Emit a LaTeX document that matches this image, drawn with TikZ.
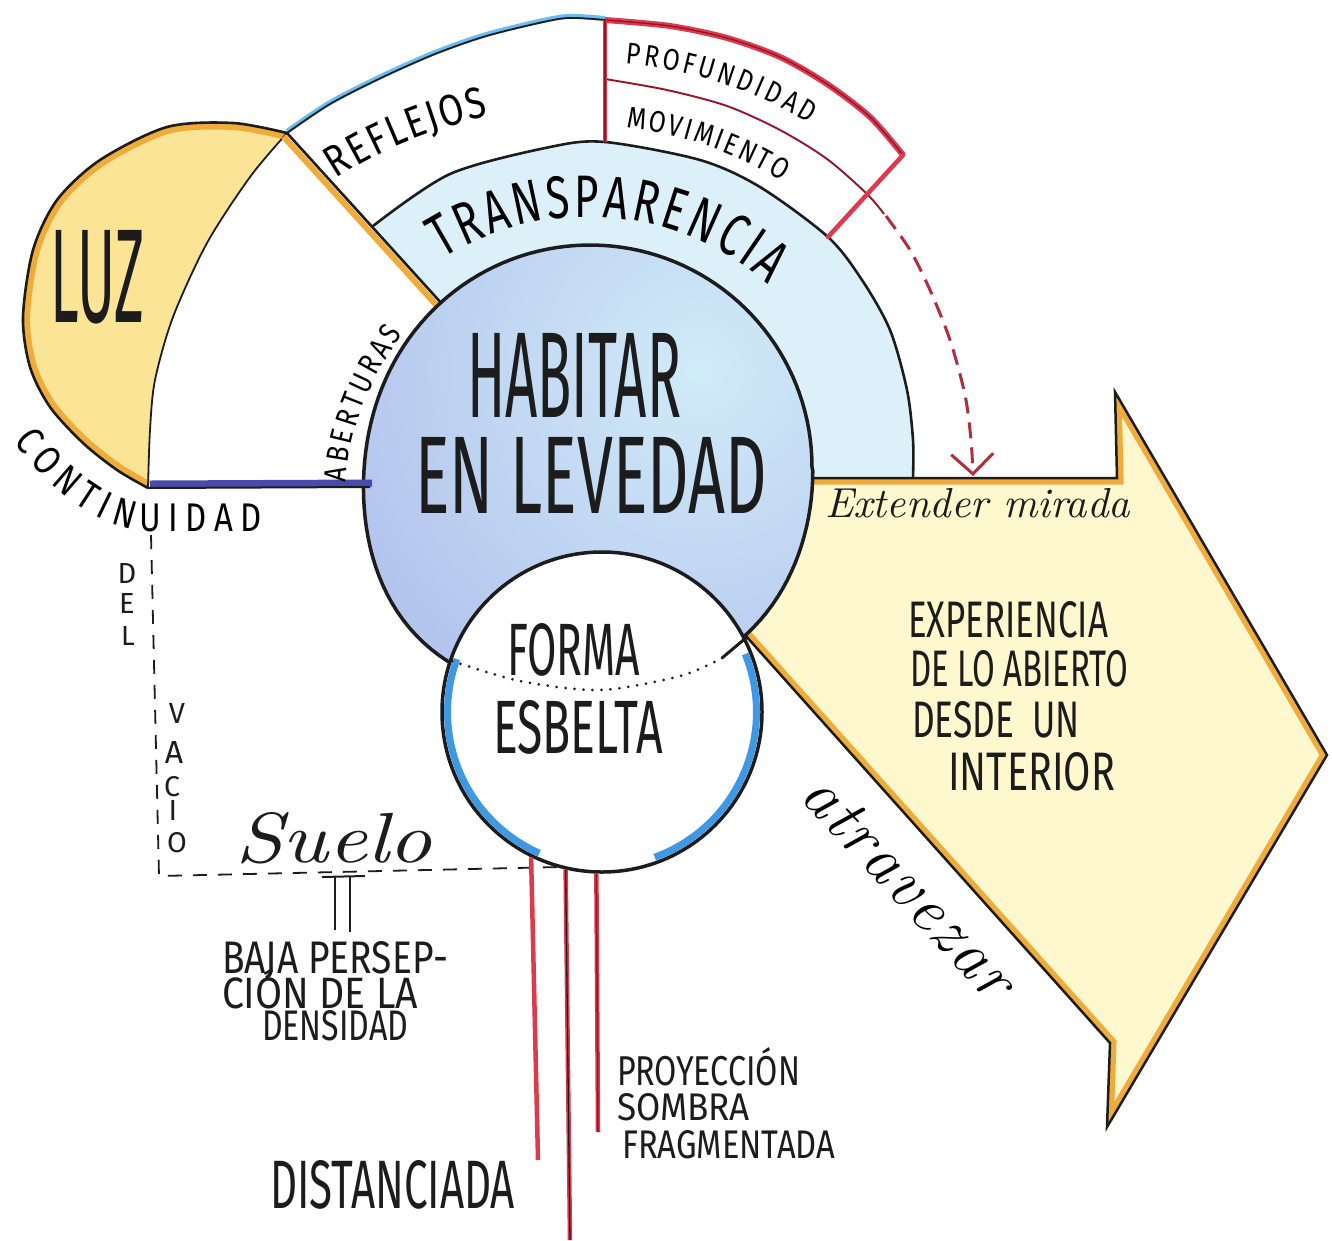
\documentclass[tikz,border=0pt]{standalone}
\usepackage{fontspec}
\usepackage{graphicx}
\usetikzlibrary{decorations.text,arrows.meta}
\IfFontExistsTF{FiraSans-Light.otf}
 {\newfontfamily\hand{FiraSans-Light}[Extension=.otf]
  \newfontfamily\handN{FiraSans-Light}[Extension=.otf,FakeStretch=0.7]
  \newfontfamily\handM{FiraSans-Light}[Extension=.otf,FakeStretch=0.82]}
 {\newfontfamily\hand{Fira Sans}
  \newfontfamily\handN{Fira Sans}[FakeStretch=0.7]
  \newfontfamily\handM{Fira Sans}[FakeStretch=0.82]}
\newcommand{\fitbox}[3]{\resizebox{#1pt}{#2pt}{\hand #3}}
\newcommand{\pathfont}[1]{\handN\fontsize{#1}{#1}\selectfont}
\newcommand{\pathfontm}[1]{\handM\fontsize{#1}{#1}\selectfont}
\newcommand{\cursfont}[1]{\itshape\fontsize{#1}{#1}\selectfont}
\definecolor{arrowfill}{RGB}{255,247,205}
\definecolor{orangeedge}{RGB}{240,172,58}
\definecolor{luzfill}{RGB}{252,228,150}
\definecolor{navyline}{RGB}{72,74,172}
\definecolor{skyline}{RGB}{105,190,238}
\definecolor{bandblue}{RGB}{220,240,249}
\definecolor{circin}{RGB}{208,235,248}
\definecolor{circout}{RGB}{166,178,232}
\definecolor{rimblue}{RGB}{62,152,226}
\definecolor{redline}{RGB}{222,58,78}
\definecolor{darkred}{RGB}{150,20,40}
\definecolor{inkc}{RGB}{28,28,28}
\tikzset{
  lbl/.style={inner sep=0pt, outer sep=0pt, text=inkc, anchor=base west},
  ltr/.style={inner sep=0pt, outer sep=0pt, text=inkc},
}
\begin{document}
\begin{tikzpicture}[x=1pt,y=-1pt]
\useasboundingbox (0,0) rectangle (1332,1240);
\fill[white] (0,0) rectangle (1332,1240);

% ---------------- big arrow ----------------
\coordinate (a1) at (760,478);
\coordinate (a2) at (1117,478);
\coordinate (a3) at (1115,392);
\coordinate (a4) at (1327,755);
\coordinate (a5) at (1107,1127);
\coordinate (a6) at (1110,1043);
\coordinate (a7) at (720,607);
\def\arrowpath{(a1) -- (a2) -- (a3) -- (a4) -- (a5) -- (a6) -- (a7) -- cycle}
\fill[arrowfill] \arrowpath;
\begin{scope}
  \clip \arrowpath;
  \draw[orangeedge, line width=13pt, line join=miter] \arrowpath;
\end{scope}

% ---------------- transparencia band ----------------
\def\arcthree{plot[smooth] coordinates {(373,226) (450,174) (550,147) (605,142) (700,160) (760,187) (828,237) (862,280) (890,330) (907,390) (913,440) (913,478)}}
\fill[bandblue] \arcthree -- (600,478) -- (443,305) -- cycle;
\draw[inkc, line width=2.5pt, line join=miter] (a1) -- (a2) -- (a3) -- (a4) -- (a5) -- (a6) -- (a7);
\draw[inkc, line width=2.6pt] \arcthree;

% ---------------- outer arcs: reflejos / red box ----------------
\draw[skyline, line width=5pt, yshift=1.5pt] plot[smooth] coordinates {(287,133) (330,104) (383,77) (435,54) (483,37) (530,25) (567,18) (605,20)};
\draw[inkc, line width=1.8pt] plot[smooth] coordinates {(287,133) (330,104) (383,77) (435,54) (483,37) (530,25) (567,18) (605,20)};
\draw[redline, line width=6pt] plot[smooth] coordinates {(605,20) (670,26) (727,38) (780,57) (827,84) (870,117) (903,155)};
\draw[darkred, line width=1.4pt] plot[smooth] coordinates {(605,20) (670,26) (727,38) (780,57) (827,84) (870,117) (903,155)};
\draw[darkred, line width=1.9pt] plot[smooth] coordinates {(605,79) (667,90) (727,106) (780,130) (827,159) (867,194) (884,214)};
\draw[redline, line width=4pt] (605,20) -- (605,142);
\draw[darkred, line width=1.5pt] (605,20) -- (605,142);
\draw[redline, line width=4.5pt, line cap=round] (903,155) -- (828,237);
\draw[redline!80!black, line width=3pt, dash pattern=on 16pt off 9pt, -{Straight Barb[length=20pt,width=42pt]}]
  plot[smooth] coordinates {(886,216) (910,250) (930,290) (950,340) (965,395) (971,440) (973,476)};

% ---------------- LUZ ----------------
\def\luzpath{plot[smooth] coordinates {(287,133) (233,123) (167,127) (100,160) (57,200) (33,250) (23,317) (30,367) (50,407) (83,443) (117,470) (148,488)} -- plot[smooth] coordinates {(148,488) (150,430) (155,380) (173,317) (207,243) (250,177) (287,133)} -- cycle}
\fill[luzfill] \luzpath;
\begin{scope}
  \clip \luzpath;
  \draw[orangeedge, line width=14pt] plot[smooth] coordinates {(287,133) (233,123) (167,127) (100,160) (57,200) (33,250) (23,317) (30,367) (50,407) (83,443) (117,470) (148,488)};
\end{scope}
\draw[inkc, line width=2.6pt] plot[smooth] coordinates {(287,133) (233,123) (167,127) (100,160) (57,200) (33,250) (23,317) (30,367) (50,407) (83,443) (117,470) (148,488)};
\draw[inkc, line width=1.8pt] plot[smooth] coordinates {(148,488) (150,430) (155,380) (173,317) (207,243) (250,177) (287,133)};
\draw[orangeedge, line width=6pt] (283.5,136.5) -- (439.5,308.5);
\draw[inkc, line width=2.6pt] (287,133) -- (443,305);

% ---------------- main circle ----------------
\def\mainpath{plot[domain=0:359, samples=150] ({590+(222+20*exp(-((\x-225)/35)^2)+7*exp(-((\x-315)/30)^2))*cos(\x)},{467-(222+20*exp(-((\x-225)/35)^2)+7*exp(-((\x-315)/30)^2))*sin(\x)}) -- cycle}
\fill[circin] \mainpath;
\begin{scope}
  \clip \mainpath;
  \shade[inner color=circin, outer color=circout] (700,370) circle[radius=560];
\end{scope}
\draw[inkc, line width=3.5pt] \mainpath;

% ---------------- small circle ----------------
\node[circle, draw=inkc, line width=3.5pt, fill=white, minimum size=320pt, inner sep=0pt] (forma) at (602,712) {};
\begin{scope}
  \clip (602,712) circle[radius=158];
  \draw[rimblue, line width=18pt] plot[domain=160:246, samples=40] ({602+160*cos(\x)},{712-160*sin(\x)});
  \draw[rimblue, line width=18pt] plot[domain=-70:22, samples=40] ({602+160*cos(\x)},{712-160*sin(\x)});
\end{scope}
\draw[inkc, line width=3pt, line cap=round, dash pattern=on 0pt off 9pt] plot[smooth] coordinates {(452,661) (520,681) (600,690) (680,676) (722,658)};
\draw[inkc, line width=3pt, line cap=round] (722,658) -- (747,637);

% ---------------- blue line (continuidad) ----------------
\draw[navyline, line width=7pt] (150,484) -- (372,483);
\draw[inkc, line width=2pt] (148,488) -- (370,487);

% ---------------- dashed void / suelo ----------------
\coordinate (v1) at (151,535);
\coordinate (v2) at (159,876);
\coordinate (v3) at (560,867);
\draw[inkc, line width=1.8pt, dash pattern=on 14pt off 11pt] (v1) -- (v2) -- (v3);
\draw[inkc, line width=2pt] (322,877) -- (365,876);
\draw[inkc, line width=2pt] (335,877) -- (335,930);
\draw[inkc, line width=2pt] (350,877) -- (350,932);

% ---------------- red shadow lines ----------------
\coordinate (r1) at (538,1160);
\coordinate (r2) at (570,1240);
\coordinate (r3) at (598,1132);
\draw[redline, line width=4.5pt] (forma.244) -- (r1);
\draw[redline, line width=4.5pt] (forma.257) -- (r2);
\draw[inkc, line width=1.3pt] (forma.257) -- (r2);
\draw[redline, line width=4.5pt] (forma.268) -- (r3);
\draw[darkred, line width=1.5pt] (forma.268) -- (r3);

% ---------------- texts ----------------
\node[lbl] (luz) at (50,322) {\fitbox{95}{92}{LUZ}};
\node[lbl] (habitar) at (467,417) {\fitbox{214}{84}{HABITAR}};
\node[lbl] (leve) at (415,513) {\fitbox{352}{76}{EN LEVEDAD}};
\node[lbl] (forma1) at (507,675) {\fitbox{133}{52}{FORMA}};
\node[lbl] (esbelta) at (493,753) {\fitbox{170}{53}{ESBELTA}};
\node[lbl] (exp1) at (908,637) {\fitbox{200}{36}{EXPERIENCIA}};
\node[lbl] (exp2) at (910,686) {\fitbox{218}{36}{DE LO ABIERTO}};
\node[lbl] (exp3) at (912,737) {\fitbox{168}{36}{DESDE~~UN}};
\node[lbl] (exp4) at (948,790) {\fitbox{167}{38}{INTERIOR}};
\node[lbl] (baja1) at (222,973) {\fitbox{226}{32}{BAJA PERSEP-}};
\node[lbl] (baja2) at (222,1008) {\fitbox{196}{40}{CIÓN DE LA}};
\node[lbl] (baja3) at (262,1040) {\fitbox{146}{30}{DENSIDAD}};
\node[lbl] (proy1) at (617,1085) {\fitbox{183}{38}{PROYECCIÓN}};
\node[lbl] (proy2) at (617,1120) {\fitbox{133}{27}{SOMBRA}};
\node[lbl] (proy3) at (622,1158) {\fitbox{213}{28}{FRAGMENTADA}};
\node[lbl] (dist) at (270,1208) {\fitbox{245}{48}{DISTANCIADA}};

\node[ltr] (dD) at (127,573) {\resizebox{!}{20pt}{\hand D}};
\node[ltr] (dE) at (127,603) {\resizebox{!}{20pt}{\hand E}};
\node[ltr] (dL) at (128,636) {\resizebox{!}{19pt}{\hand L}};
\node[ltr] (vV) at (177,713) {\resizebox{!}{20pt}{\hand V}};
\node[ltr] (vA) at (174,752) {\resizebox{!}{22pt}{\hand A}};
\node[ltr] (vC) at (172,787) {\resizebox{!}{20pt}{\hand C}};
\node[ltr] (vI) at (173,810) {\resizebox{!}{20pt}{\hand I}};
\node[ltr] (vO) at (177,843) {\resizebox{!}{20pt}{\hand O}};

\node[lbl] (ext) at (825,517) {\resizebox{305pt}{!}{\itshape Extender mirada}};
\node[lbl] (suelo) at (235,862) {\resizebox{197pt}{50pt}{\itshape Suelo}};

\path[decorate, decoration={text along path, text align=fit to path, text={|\cursfont{66}|atravezar}}]
  (798,797) -- (990,1003);
\path[decorate, decoration={text along path, text align=fit to path, text={|\pathfont{60}|TRANSPARENCIA}}]
  plot[domain=122:49, samples=50] ({588+275*cos(\x)},{492-275*sin(\x)});
\path[decorate, decoration={text along path, text align=fit to path, text={|\pathfontm{44}|REFLEJOS}}]
  (336,179) .. controls (380,150) and (430,130) .. (489,116);
\path[decorate, decoration={text along path, text align=fit to path, text={|\pathfontm{30}|PROFUNDIDAD}}]
  plot[domain=85:59, samples=40] ({588+430*cos(\x)},{492-430*sin(\x)});
\path[decorate, decoration={text along path, text align=fit to path, text={|\pathfontm{30}|MOVIMIENTO}}]
  plot[domain=84:58, samples=40] ({588+366*cos(\x)},{492-366*sin(\x)});
\path[decorate, decoration={text along path, text align=fit to path, text={|\pathfontm{31}|ABERTURAS}}]
  (346,482) .. controls (349,430) and (369,380) .. (403,334);
\path[decorate, decoration={text along path, text align=fit to path, text={|\pathfontm{40}|CONTINUIDAD}}]
  (14,441) .. controls (50,490) and (95,528) .. (148,531) -- (262,531);
\end{tikzpicture}
\end{document}
